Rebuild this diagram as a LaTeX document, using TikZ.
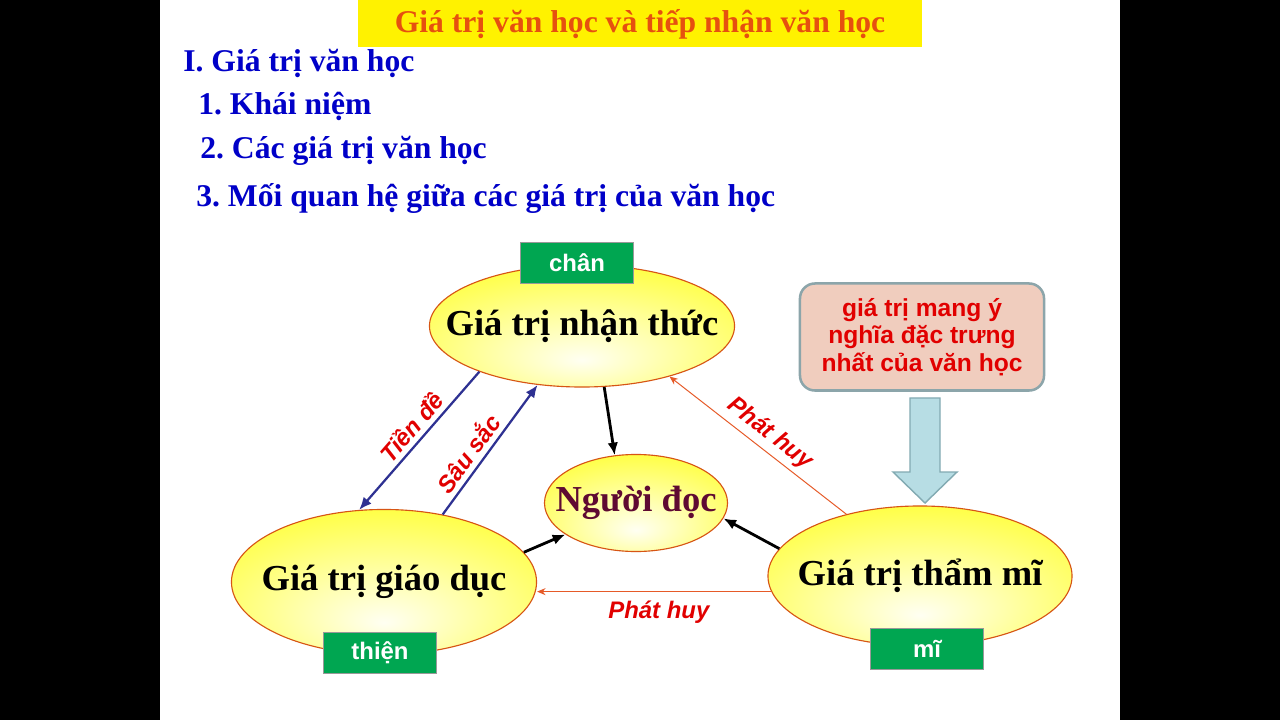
\documentclass[tikz,border=0pt]{standalone}
\usepackage{fontspec}
\setmainfont{Liberation Serif}
\setsansfont{Liberation Sans}
\usetikzlibrary{arrows.meta,shapes.geometric}
\frenchspacing
\definecolor{titleorange}{RGB}{230,80,15}
\definecolor{listblue}{RGB}{0,0,200}
\definecolor{boxgreen}{RGB}{0,166,81}
\definecolor{boxpink}{RGB}{240,205,190}
\definecolor{pinkline}{RGB}{140,165,170}
\definecolor{redtext}{RGB}{225,0,0}
\definecolor{arrowblue}{RGB}{46,49,146}
\definecolor{huyorange}{RGB}{230,90,40}
\definecolor{ovalline}{RGB}{215,85,20}
\definecolor{readercol}{RGB}{95,10,50}
\definecolor{paleblue}{RGB}{183,221,228}
\definecolor{paleline}{RGB}{130,170,178}
\pgfdeclareradialshading{eggshade}{\pgfpoint{0bp}{-14bp}}{color(0bp)=(yellow!5); color(15bp)=(yellow!35); color(42bp)=(yellow!90); color(62bp)=(yellow); color(80bp)=(yellow)}
\begin{document}
\begin{tikzpicture}[x=0.025cm, y=-0.025cm,
	oval/.style={ellipse, draw=ovalline, line width=0.8pt, shading=eggshade},
	ovaltext/.style={font=\bfseries\fontsize{26}{30}\selectfont},
	listtext/.style={anchor=base west, inner sep=0pt, text=listblue, font=\bfseries\fontsize{22.5}{27}\selectfont},
	tagbox/.style={fill=boxgreen, draw=gray!80, line width=1.2pt, minimum width=2.825cm, minimum height=1.025cm, text=white, font=\sffamily\bfseries\fontsize{17}{20}\selectfont},
	notebox/.style={rounded corners=0.375cm, fill=boxpink, draw=pinkline, line width=1.8pt, minimum width=6.1cm, minimum height=2.675cm, align=center, text=redtext, font=\sffamily\bfseries\fontsize{17.5}{19.5}\selectfont},
	huytext/.style={text=redtext, font=\sffamily\bfseries\itshape\fontsize{17}{20}\selectfont},
	bluearr/.style={draw=arrowblue, line width=1.6pt, -{Latex[length=9pt,width=7.5pt]}},
	blackarr/.style={line width=2pt, -{Latex[length=9pt,width=7.5pt]}},
	huyarr/.style={draw=huyorange, line width=0.7pt, -{Stealth[length=6pt,width=5pt]}}]
	\fill[black] (0,0) rectangle (1280,720);
	\fill[white] (160,0) rectangle (1120,720);
	\fill[yellow] (358,0) rectangle (922,47);
	\draw (640,33) node[anchor=base, inner sep=0pt, text=titleorange, font=\bfseries\fontsize{22.5}{27}\selectfont] (title) {Giá trị văn học và tiếp nhận văn học};
	\draw (183,72) node[listtext] (I) {I. Giá trị văn học};
	\draw (198,115) node[listtext] (I1) {1. Khái niệm};
	\draw (200,159) node[listtext] (I2) {2. Các giá trị văn học};
	\draw (196,207) node[listtext] (I3) {3. Mối quan hệ giữa các giá trị của văn học};
	
	\draw (582,326) node[oval, minimum width=7.625cm, minimum height=3.05cm] (NT) {} node[ovaltext] {Giá trị nhận thức};
	\draw (636,503) node[oval, minimum width=4.575cm, minimum height=2.425cm] (ND) {} node[ovaltext, text=readercol] {Người đọc};
	\draw (384,582) node[oval, minimum width=7.625cm, minimum height=3.625cm] (GD) {} node[ovaltext] {Giá trị giáo dục};
	\draw (920,576) node[oval, minimum width=7.6cm, minimum height=3.5cm] (TM) {} node[ovaltext] {Giá trị thẩm mĩ};
	
	\draw (577,263) node[tagbox] (chan) {chân};
	\draw (380,653) node[tagbox] (thien) {thiện};
	\draw (927,649) node[tagbox] (mi) {mĩ};
	
	\draw (922,337) node[notebox] (note) {giá trị mang ý\\nghĩa đặc trưng\\nhất của văn học};
	\draw[fill=paleblue, draw=paleline, line width=1pt] (910,398) -- (940,398) -- (940,472) -- (957,472) -- (925,503) -- (893,472) -- (910,472) -- cycle;
	
	\draw[bluearr] (NT.204) -- node[huytext, sloped, above, pos=0.47] {Tiền đề} (GD.109);
	\draw[bluearr] (GD.49) -- node[huytext, sloped, above, pos=0.4] {Sâu sắc} (NT.233);
	\draw[blackarr] (NT.290) -- (ND.114);
	\draw[blackarr] (GD.12) -- (ND.204);
	\draw[blackarr] (TM.169) -- (ND.350);
	\draw[huyarr] (TM.140) -- node[huytext, sloped, above, pos=0.49] {Phát huy} (NT.330);
	\draw[huyarr] (TM.186) -- node[huytext, below=3pt, pos=0.48] {Phát huy} (TM.186 -| GD.east);
\end{tikzpicture}
\end{document}
